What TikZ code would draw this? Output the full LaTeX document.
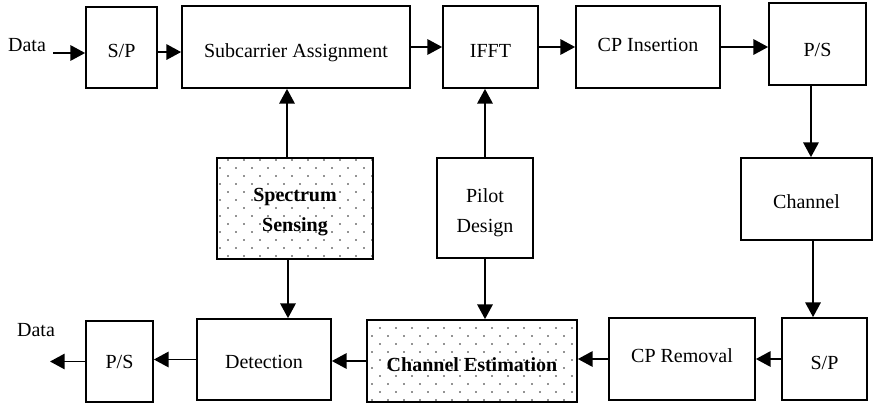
\documentclass[tikz,border=0pt]{standalone}
\usepackage{fontspec}
\setmainfont{Liberation Serif}
\usetikzlibrary{arrows.meta,patterns}
\pgfdeclarepatternformonly{sdots}{\pgfpoint{-1pt}{-1pt}}{\pgfpoint{13pt}{13pt}}{\pgfpoint{12pt}{12pt}}{%
  \pgfpathcircle{\pgfpoint{3pt}{3pt}}{0.65pt}\pgfusepath{fill}%
  \pgfpathcircle{\pgfpoint{9pt}{9pt}}{0.65pt}\pgfusepath{fill}}
\newcommand\tbase[2]{\raisebox{-#1}[0pt][0pt]{#2}}
\newcommand\ttwo[3]{\raisebox{#1}[0pt][0pt]{\begin{tabular}[t]{@{}c@{}}#2\\#3\end{tabular}}}
\begin{document}
\begin{tikzpicture}[x=0.75pt,y=-0.75pt,
  font=\fontsize{15}{22.5}\selectfont,
  box/.style={draw, line width=1.3pt, rectangle, inner sep=0pt},
  dotbox/.style={box, pattern=sdots, pattern color=black!85},
  sz/.style 2 args={minimum width=#1*0.75pt, minimum height=#2*0.75pt},
  arr/.style={line width=1.4pt, -{Triangle[length=11pt,width=11.5pt]}}]
\useasboundingbox (0,0) rectangle (874,404);
\node[box,sz={71}{81}] (sp1) at (121.5,47.5) {\tbase{7.5pt}{S/P}};
\node[box,sz={228}{82}] (sub) at (296,47) {\tbase{7.5pt}{Subcarrier Assignment}};
\node[box,sz={95}{82}] (ifft) at (490.5,47) {\tbase{7.5pt}{IFFT}};
\node[box,sz={144}{82}] (cpi) at (648,47) {\tbase{3pt}{CP Insertion}};
\node[box,sz={97}{82}] (ps1) at (817.5,44) {\tbase{9.4pt}{P/S}};
\node[box,sz={131}{82}] (chan) at (806.5,199) {\tbase{6.75pt}{Channel}};
\node[box,sz={85}{82}] (sp2) at (824.5,359) {\tbase{7.5pt}{S/P}};
\node[box,sz={146}{82}] (cpr) at (682,359) {\tbase{2.25pt}{CP Removal}};
\node[dotbox,sz={210}{82}] (ce) at (472,361) {\tbase{7.5pt}{\textbf{Channel Estimation}}};
\node[box,sz={134}{81}] (det) at (264,359.5) {\tbase{7.1pt}{Detection}};
\node[box,sz={67}{81}] (ps2) at (119.5,361.5) {\tbase{5.6pt}{P/S}};
\node[dotbox,sz={156}{101}] (ss) at (295,208.5) {\ttwo{4.9pt}{\textbf{Spectrum}}{\textbf{Sensing}}};
\node[box,sz={96}{100}] (pd) at (485,208) {\ttwo{4.5pt}{Pilot}{Design}};
\node (din) at (27,45) {Data};
\node (dout) at (36,330) {Data};
\coordinate (dstart) at (53,53);
\coordinate (dend) at (50,361.5);
\draw[arr] (dstart) -- (dstart -| sp1.west);
\draw[arr] ([yshift=-3.4pt]sp1.east) -- ([yshift=-3.4pt]sp1.east -| sub.west);
\draw[arr] (sub.east) -- (sub.east -| ifft.west);
\draw[arr] (ifft.east) -- (ifft.east -| cpi.west);
\draw[arr] (cpi.east) -- (cpi.east -| ps1.west);
\draw[arr] ([xshift=-4.9pt]ps1.south) -- ([xshift=-4.9pt]ps1.south |- chan.north);
\draw[arr] ([xshift=4.9pt]chan.south) -- ([xshift=4.9pt]chan.south |- sp2.north);
\draw[arr] (sp2.west) -- (sp2.west -| cpr.east);
\draw[arr] (cpr.west) -- (cpr.west -| ce.east);
\draw[arr] (ce.west) -- (ce.west -| det.east);
\draw[arr] (det.west) -- (det.west -| ps2.east);
\draw[arr] (ps2.west) -- (dend);
\draw[arr] ([xshift=-6pt]ss.north) -- ([xshift=-6pt]ss.north |- sub.south);
\draw[arr] ([xshift=-5.25pt]ss.south) -- ([xshift=-5.25pt]ss.south |- det.north);
\draw[arr] (pd.north) -- (pd.north |- ifft.south);
\draw[arr] (pd.south) -- (pd.south |- ce.north);
\end{tikzpicture}
\end{document}
